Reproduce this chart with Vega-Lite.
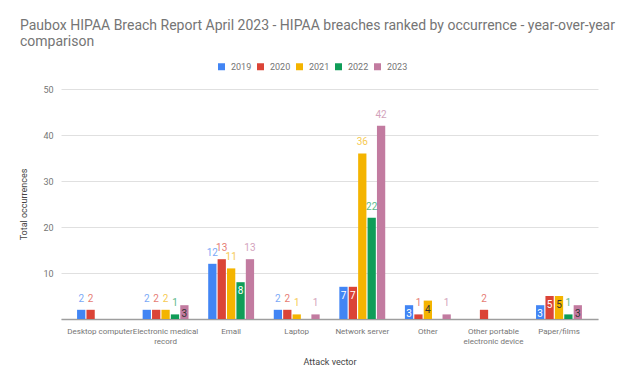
{
  "$schema": "https://vega.github.io/schema/vega-lite/v6.json",
  "width": 545,
  "height": 230,
  "autosize": "none",
  "padding": {"left": 61, "top": 89, "right": 18, "bottom": 67},
  "background": "white",
  "title": {
    "text": ["Paubox HIPAA Breach Report April 2023 - HIPAA breaches ranked by occurrence - year-over-year", "comparison"],
    "anchor": "start",
    "frame": "group",
    "dx": -41,
    "offset": 13,
    "font": "Roboto",
    "fontSize": 14,
    "fontWeight": "normal",
    "color": "#757575",
    "lineHeight": 16
  },
  "config": {
    "font": "Roboto",
    "view": {"stroke": null}
  },
  "data": {
    "values": [
      {"cat": "Desktop computer", "year": "2019", "value": 2},
      {"cat": "Desktop computer", "year": "2020", "value": 2},
      {"cat": "Electronic medical record", "year": "2019", "value": 2},
      {"cat": "Electronic medical record", "year": "2020", "value": 2},
      {"cat": "Electronic medical record", "year": "2021", "value": 2},
      {"cat": "Electronic medical record", "year": "2022", "value": 1},
      {"cat": "Electronic medical record", "year": "2023", "value": 3},
      {"cat": "Email", "year": "2019", "value": 12},
      {"cat": "Email", "year": "2020", "value": 13},
      {"cat": "Email", "year": "2021", "value": 11},
      {"cat": "Email", "year": "2022", "value": 8},
      {"cat": "Email", "year": "2023", "value": 13},
      {"cat": "Laptop", "year": "2019", "value": 2},
      {"cat": "Laptop", "year": "2020", "value": 2},
      {"cat": "Laptop", "year": "2021", "value": 1},
      {"cat": "Laptop", "year": "2023", "value": 1},
      {"cat": "Network server", "year": "2019", "value": 7},
      {"cat": "Network server", "year": "2020", "value": 7},
      {"cat": "Network server", "year": "2021", "value": 36},
      {"cat": "Network server", "year": "2022", "value": 22},
      {"cat": "Network server", "year": "2023", "value": 42},
      {"cat": "Other", "year": "2019", "value": 3},
      {"cat": "Other", "year": "2020", "value": 1},
      {"cat": "Other", "year": "2021", "value": 4},
      {"cat": "Other", "year": "2023", "value": 1},
      {"cat": "Other portable electronic device", "year": "2020", "value": 2},
      {"cat": "Paper/films", "year": "2019", "value": 3},
      {"cat": "Paper/films", "year": "2020", "value": 5},
      {"cat": "Paper/films", "year": "2021", "value": 5},
      {"cat": "Paper/films", "year": "2022", "value": 1},
      {"cat": "Paper/films", "year": "2023", "value": 3}
    ]
  },
  "encoding": {
    "x": {
      "field": "cat",
      "type": "nominal",
      "sort": null,
      "scale": {"paddingInner": 0.3, "paddingOuter": 0.245, "range": [0, 537]},
      "axis": {
        "title": "Attack vector",
        "titleFont": "Roboto",
        "titleFontSize": 9,
        "titleFontWeight": "normal",
        "titleColor": "#444444",
        "titlePadding": 12,
        "labelAngle": 0,
        "labelFont": "Roboto",
        "labelFontSize": 8,
        "labelColor": "#757575",
        "labelPadding": 8,
        "labelLimit": 0,
        "labelLineHeight": 10,
        "labelExpr": "datum.label == 'Electronic medical record' ? ['Electronic medical', 'record'] : datum.label == 'Other portable electronic device' ? ['Other portable', 'electronic device'] : datum.label",
        "ticks": false,
        "domain": true,
        "domainColor": "#9e9e9e",
        "domainWidth": 1.5,
        "grid": false
      }
    },
    "xOffset": {
      "field": "year",
      "type": "nominal",
      "scale": {"domain": ["2019", "2020", "2021", "2022", "2023"], "paddingInner": 0.12}
    },
    "y": {
      "field": "value",
      "type": "quantitative",
      "scale": {"domain": [0, 50], "nice": false},
      "axis": {
        "title": "Total occurrences",
        "titleFont": "Roboto",
        "titleFontSize": 9,
        "titleFontWeight": "normal",
        "titleColor": "#444444",
        "titlePadding": 14,
        "values": [0, 10, 20, 30, 40, 50],
        "labelExpr": "datum.value == 0 ? '' : datum.label",
        "labelFont": "Roboto",
        "labelFontSize": 9,
        "labelColor": "#757575",
        "labelPadding": 8,
        "ticks": false,
        "domain": false,
        "gridColor": "#e0e0e0"
      }
    }
  },
  "layer": [
    {
      "mark": {"type": "bar"},
      "encoding": {
        "color": {
          "field": "year",
          "type": "nominal",
          "scale": {"domain": ["2019", "2020", "2021", "2022", "2023"], "range": ["#4285F4", "#DB4437", "#F4B400", "#0F9D58", "#C27BA0"]},
          "legend": {
            "title": null,
            "orient": "none",
            "legendX": 156,
            "legendY": -27,
            "direction": "horizontal",
            "symbolType": "square",
            "symbolSize": 49,
            "symbolStrokeWidth": 0,
            "labelFont": "Roboto",
            "labelFontSize": 9,
            "labelColor": "#757575",
            "labelOffset": 5,
            "columnPadding": 4
          }
        }
      }
    },
    {
      "transform": [{"filter": "datum.value < 3 || datum.value >= 10"}],
      "mark": {"type": "text", "dy": -11, "baseline": "middle", "fontSize": 10, "font": "Roboto", "opacity": 0.7},
      "encoding": {
        "text": {"field": "value", "type": "quantitative"},
        "color": {"field": "year", "type": "nominal", "legend": null}
      }
    },
    {
      "transform": [{"filter": "datum.value >= 3 && datum.value < 10"}],
      "mark": {"type": "text", "dy": 9, "baseline": "middle", "fontSize": 10, "font": "Roboto"},
      "encoding": {
        "text": {"field": "value", "type": "quantitative"},
        "color": {
          "condition": {"test": "datum.year == '2021' || datum.year == '2023'", "value": "#333333"},
          "value": "#ffffff"
        }
      }
    }
  ]
}
